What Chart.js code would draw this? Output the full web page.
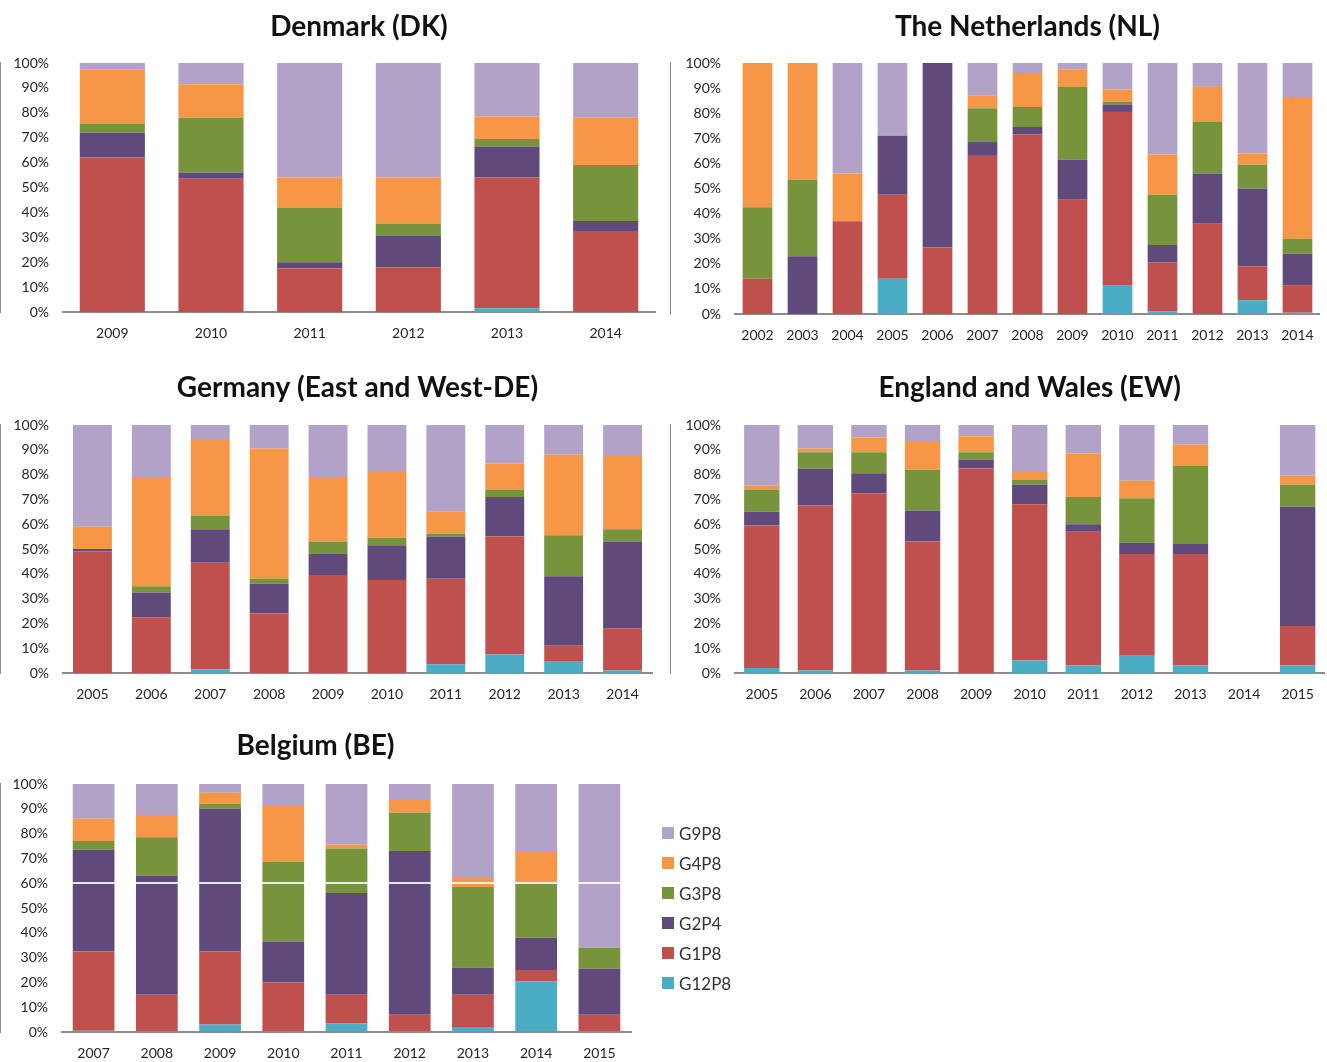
<!DOCTYPE html>
<html>
<head>
<meta charset="utf-8">
<script src="https://cdn.jsdelivr.net/npm/chart.js@4.4.1/dist/chart.umd.min.js"></script>
<style>
  body { margin: 0; background: #fff; width: 1327px; height: 1062px; position: relative; overflow: hidden; font-family: Lato, sans-serif; }
  .panel { position: absolute; }
  #legend { position: absolute; left: 662px; top: 818px; }
  .lg-item { height: 30px; display: flex; align-items: center; font-size: 17px; color: #333; }
  .lg-box { width: 12px; height: 12px; margin-right: 5px; }
</style>
</head>
<body>
<div class="panel" style="left:0;top:0;width:660px;height:350px"><canvas id="dk"></canvas></div>
<div class="panel" style="left:670px;top:0;width:657px;height:350px"><canvas id="nl"></canvas></div>
<div class="panel" style="left:0;top:360px;width:660px;height:350px"><canvas id="de"></canvas></div>
<div class="panel" style="left:670px;top:360px;width:657px;height:350px"><canvas id="ew"></canvas></div>
<div class="panel" style="left:0;top:720px;width:808px;height:342px"><canvas id="be"></canvas></div>
<div id="legend"></div>

<script>
// Genotype shares (%) per year, stacked bottom to top: G12P8, G1P8, G2P4, G3P8, G4P8, G9P8
const genotypes = ['G12P8', 'G1P8', 'G2P4', 'G3P8', 'G4P8', 'G9P8'];
const genotypeColors = ['#4BACC6', '#C0504D', '#604A7B', '#77933C', '#F79646', '#B2A2C7'];

// Denmark
const dkYears = ['2009', '2010', '2011', '2012', '2013', '2014'];
const dkG12P8 = [0, 0, 0, 0, 1.5, 0];
const dkG1P8 = [62, 53.5, 17.5, 18, 52.5, 32.5];
const dkG2P4 = [10, 2.5, 2.5, 12.5, 12.5, 4];
const dkG3P8 = [3.5, 22, 22, 5, 3, 22.5];
const dkG4P8 = [22, 13.5, 12, 18.5, 9, 19];
const dkG9P8 = [2.5, 8.5, 46, 46, 21.5, 22];

// The Netherlands
const nlYears = ['2002', '2003', '2004', '2005', '2006', '2007', '2008', '2009', '2010', '2011', '2012', '2013', '2014'];
const nlG12P8 = [0, 0, 0, 14, 0, 0, 0, 0, 11.5, 1, 0, 5.5, 0.5];
const nlG1P8 = [14, 0, 37, 33.5, 26.5, 63, 71.5, 45.5, 69, 19.5, 36, 13.5, 11];
const nlG2P4 = [0, 23, 0, 23.5, 73.5, 5.5, 3, 16, 3, 7, 20, 31, 12.5];
const nlG3P8 = [28.5, 30.5, 0, 0, 0, 13.5, 8, 29, 1, 20, 20.5, 9.5, 6];
const nlG4P8 = [57.5, 46.5, 19, 0, 0, 5, 13.5, 7, 5, 16, 14, 4.5, 56.5];
const nlG9P8 = [0, 0, 44, 29, 0, 13, 4, 2.5, 10.5, 36.5, 9.5, 36, 13.5];

// Germany
const deYears = ['2005', '2006', '2007', '2008', '2009', '2010', '2011', '2012', '2013', '2014'];
const deG12P8 = [0, 0, 1.5, 0, 0, 0, 3.5, 7.5, 4.5, 1];
const deG1P8 = [49, 22.5, 43, 24, 39.5, 37.5, 34.5, 47.5, 6.5, 17];
const deG2P4 = [1, 10, 13.5, 12, 8.5, 14, 17, 16, 28, 35];
const deG3P8 = [0, 2.5, 5.5, 2, 5, 3, 1, 3, 16.5, 5];
const deG4P8 = [9, 44, 30.5, 52.5, 26, 27, 9, 10.5, 32.5, 29.5];
const deG9P8 = [41, 21, 6, 9.5, 21, 18.5, 35, 15.5, 12, 12.5];

// England and Wales (no data for 2014)
const ewYears = ['2005', '2006', '2007', '2008', '2009', '2010', '2011', '2012', '2013', '2014', '2015'];
const ewG12P8 = [2, 1, 0, 1, 0, 5, 3, 7, 3, null, 3];
const ewG1P8 = [57.5, 66.5, 72.5, 52, 82.5, 63, 54, 41, 45, null, 16];
const ewG2P4 = [5.5, 15, 8, 12.5, 3.5, 8, 3, 4.5, 4, null, 48];
const ewG3P8 = [9, 6.5, 8.5, 16.5, 3, 2, 11, 18, 31.5, null, 9];
const ewG4P8 = [1.5, 1.5, 6, 11.5, 6.5, 3, 17.5, 7, 8.5, null, 3.5];
const ewG9P8 = [24.5, 9.5, 5, 6.5, 4.5, 19, 11.5, 22.5, 8, null, 20.5];

// Belgium
const beYears = ['2007', '2008', '2009', '2010', '2011', '2012', '2013', '2014', '2015'];
const beG12P8 = [0.5, 0, 3, 0, 3.5, 0, 2, 20.5, 0];
const beG1P8 = [32, 15, 29.5, 20, 11.5, 7, 13, 4.5, 7];
const beG2P4 = [41, 48, 57.5, 16.5, 41, 66, 11, 13, 18.5];
const beG3P8 = [3.5, 15.5, 2, 32, 18, 15.5, 32.5, 22, 8.5];
const beG4P8 = [9, 9, 4.5, 23, 1.5, 5, 4, 13, 0];
const beG9P8 = [14, 12.5, 3.5, 8.5, 24.5, 6.5, 37.5, 27, 66];

const tickFont = { family: 'Lato', size: 14 };
const tickColor = '#262626';
const axisColor = '#8c8c8c';

function makeChart(id, title, years, series, geo) {
  const datasets = series.map((values, i) => ({
    label: genotypes[i],
    data: values,
    backgroundColor: genotypeColors[i],
    borderWidth: 0,
    barPercentage: 0.66,
    categoryPercentage: 1
  }));

  new Chart(document.getElementById(id), {
    type: 'bar',
    data: { labels: years, datasets: datasets },
    options: {
      responsive: true,
      maintainAspectRatio: false,
      animation: false,
      layout: { padding: { left: 0, right: geo.right, top: 0, bottom: 0 } },
      plugins: {
        legend: { display: false },
        tooltip: { enabled: false },
        title: {
          display: true,
          text: title,
          fullSize: geo.titleFull,
          color: '#111',
          font: { family: 'Lato', size: 28, weight: 'bold' },
          padding: { top: geo.titleTop, bottom: geo.titleBottom }
        }
      },
      scales: {
        x: {
          stacked: true,
          grid: { display: false, drawTicks: false },
          border: { display: true, color: axisColor, width: 2 },
          ticks: { color: tickColor, font: tickFont, padding: 13, maxRotation: 0 },
          afterFit: (s) => { s.height = geo.xHeight; }
        },
        y: {
          stacked: true,
          min: 0,
          max: 100,
          grid: {
            display: !!geo.whiteLine,
            drawTicks: false,
            z: 1,
            lineWidth: 2,
            color: (ctx) => (geo.whiteLine && ctx.tick && ctx.tick.value === geo.whiteLine) ? 'rgba(255,255,255,0.85)' : 'rgba(0,0,0,0)'
          },
          border: { display: true, color: axisColor, width: 2 },
          ticks: {
            stepSize: 10,
            color: tickColor,
            font: tickFont,
            padding: 14,
            callback: (v) => v + '%'
          },
          afterFit: (s) => { s.width = geo.yWidth; }
        }
      }
    }
  });
}

makeChart('dk', 'Denmark (DK)', dkYears,
  [dkG12P8, dkG1P8, dkG2P4, dkG3P8, dkG4P8, dkG9P8],
  { right: 5, yWidth: 63, xHeight: 38, titleTop: 10, titleBottom: 19.4, titleFull: false });

makeChart('nl', 'The Netherlands (NL)', nlYears,
  [nlG12P8, nlG1P8, nlG2P4, nlG3P8, nlG4P8, nlG9P8],
  { right: 2, yWidth: 65, xHeight: 36, titleTop: 10, titleBottom: 19.4, titleFull: false });

makeChart('de', 'Germany (East and West-DE)', deYears,
  [deG12P8, deG1P8, deG2P4, deG3P8, deG4P8, deG9P8],
  { right: 8, yWidth: 63, xHeight: 37, titleTop: 11, titleBottom: 20.4, titleFull: false });

makeChart('ew', 'England and Wales (EW)', ewYears,
  [ewG12P8, ewG1P8, ewG2P4, ewG3P8, ewG4P8, ewG9P8],
  { right: 0, yWidth: 65, xHeight: 37, titleTop: 11, titleBottom: 20.4, titleFull: false });

makeChart('be', 'Belgium (BE)', beYears,
  [beG12P8, beG1P8, beG2P4, beG3P8, beG4P8, beG9P8],
  { right: 177, yWidth: 62, xHeight: 30, titleTop: 9, titleBottom: 21.4, titleFull: true, whiteLine: 60 });

// Legend, top entry is the top of the stack
const legendEl = document.getElementById('legend');
legendEl.innerHTML = genotypes.map((g, i) => ({ g, c: genotypeColors[i] })).reverse().map(item => `
  <div class="lg-item"><span class="lg-box" style="background:${item.c}"></span>${item.g}</div>
`).join('');
</script>
</body>
</html>
